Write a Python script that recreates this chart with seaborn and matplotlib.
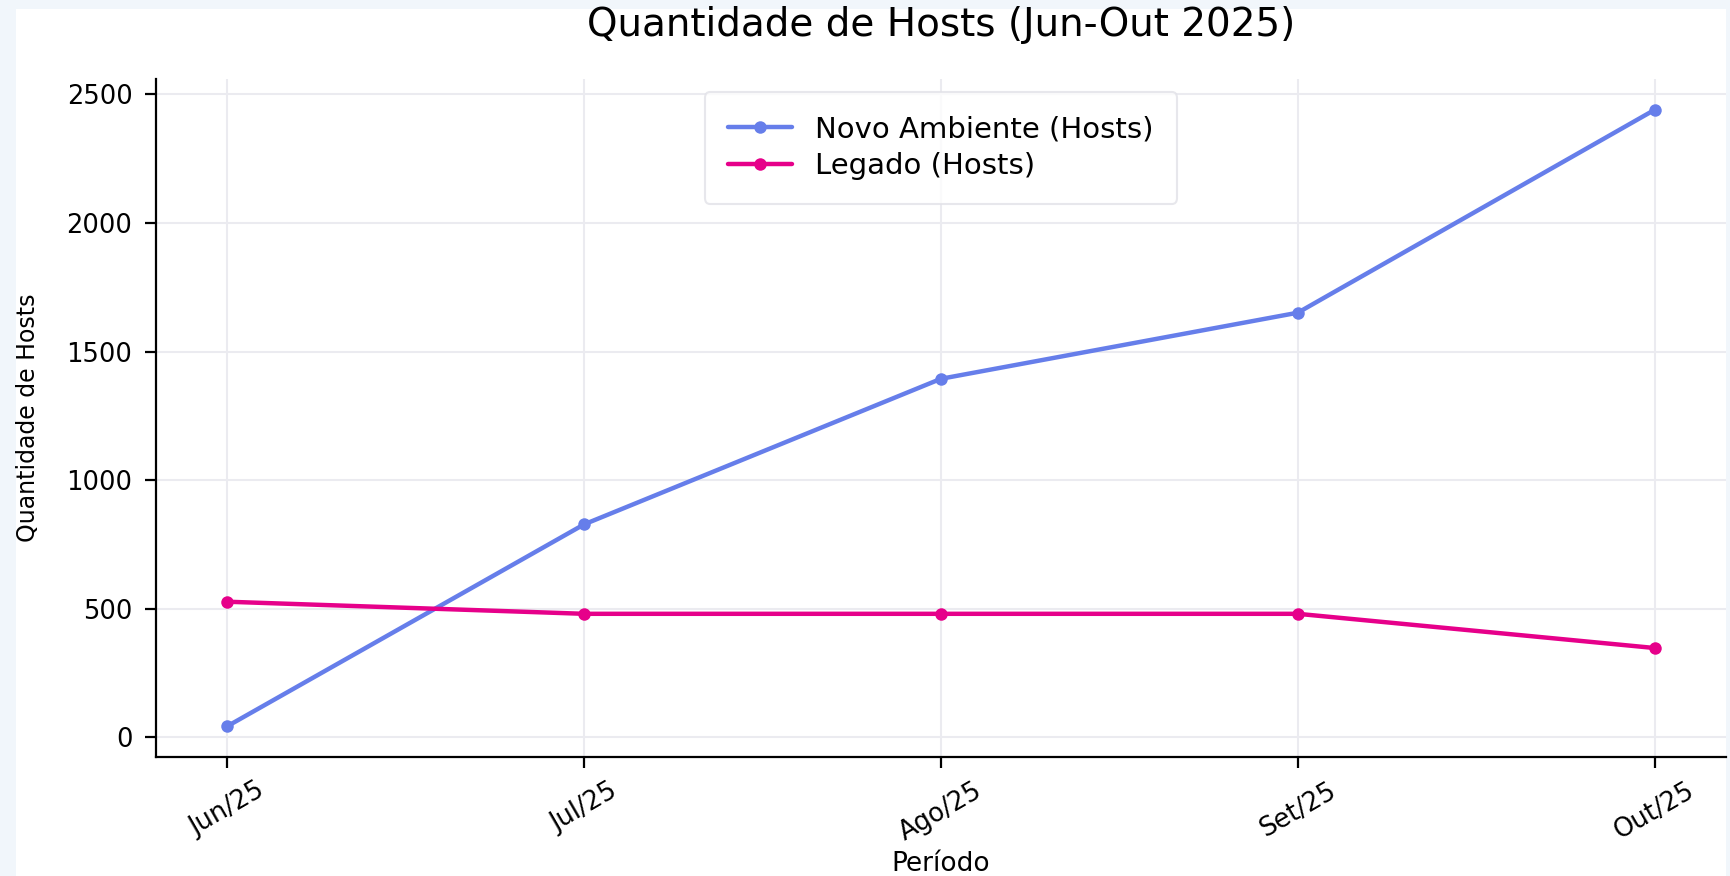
import matplotlib
matplotlib.use("Agg")
import matplotlib.pyplot as plt
import numpy as np
import pandas as pd
import seaborn as sns
from matplotlib.patches import Rectangle

periodos = ["Jun/25", "Jul/25", "Ago/25", "Set/25", "Out/25"]
novo_ambiente = [43, 828, 1394, 1651, 2440]
legado = [527, 480, 480, 480, 347]

series_names = ["Novo Ambiente (Hosts)", "Legado (Hosts)"]
cores = ["#667eea", "#e6008a"]

df = pd.DataFrame({
    "Período": periodos * 2,
    "Hosts": novo_ambiente + legado,
    "Série": [series_names[0]] * len(periodos) + [series_names[1]] * len(periodos),
})

sns.set_style("whitegrid", {"grid.color": "#ebebf0", "axes.edgecolor": "black",
                            "xtick.bottom": True, "ytick.left": True,
                            "text.color": "black", "axes.labelcolor": "black",
                            "xtick.color": "black", "ytick.color": "black"})
plt.rcParams['font.family'] = ['DejaVu Sans']

fig = plt.figure(figsize=(17.31, 8.76), dpi=100)
fig.patch.set_facecolor("#f1f6fb")
# white "page" area inside the light border
fig.patches.append(Rectangle((16 / 1731, 0), (1726 - 16) / 1731, (876 - 9) / 876,
                             transform=fig.transFigure, facecolor="white",
                             edgecolor="none", zorder=-10))

ax = fig.add_axes([156 / 1731, (876 - 757) / 876, 1570 / 1731, 678 / 876])
ax.set_facecolor("white")

sns.lineplot(data=df, x="Período", y="Hosts", hue="Série", palette=cores,
             marker="o", markersize=9, markeredgewidth=0, linewidth=3.2, ax=ax, sort=False)

sns.despine(ax=ax)
ax.spines["left"].set_linewidth(1.6)
ax.spines["bottom"].set_linewidth(1.6)
ax.tick_params(axis="both", length=8, width=1.6, color="black", labelsize=18.5, pad=7)
ax.tick_params(axis="y", pad=9)
ax.tick_params(axis="x", labelrotation=30)
ax.set_yticks([0, 500, 1000, 1500, 2000, 2500])
ax.grid(True, color="#ebebf0", linewidth=1.5)

ax.set_title("Quantidade de Hosts (Jun-Out 2025)", fontsize=28, pad=31)
ax.set_xlabel("Período", fontsize=19, labelpad=4)
ax.set_ylabel("Quantidade de Hosts", fontsize=17, labelpad=19)

leg = ax.legend(loc="upper center", fontsize=21, frameon=True, borderpad=0.8,
                handlelength=2.2, labelspacing=0.3, borderaxespad=0.45)
leg.get_frame().set_edgecolor("#e2e2e8")
leg.get_frame().set_linewidth(1.5)

fig.savefig("out.png", dpi=100, facecolor=fig.get_facecolor())
